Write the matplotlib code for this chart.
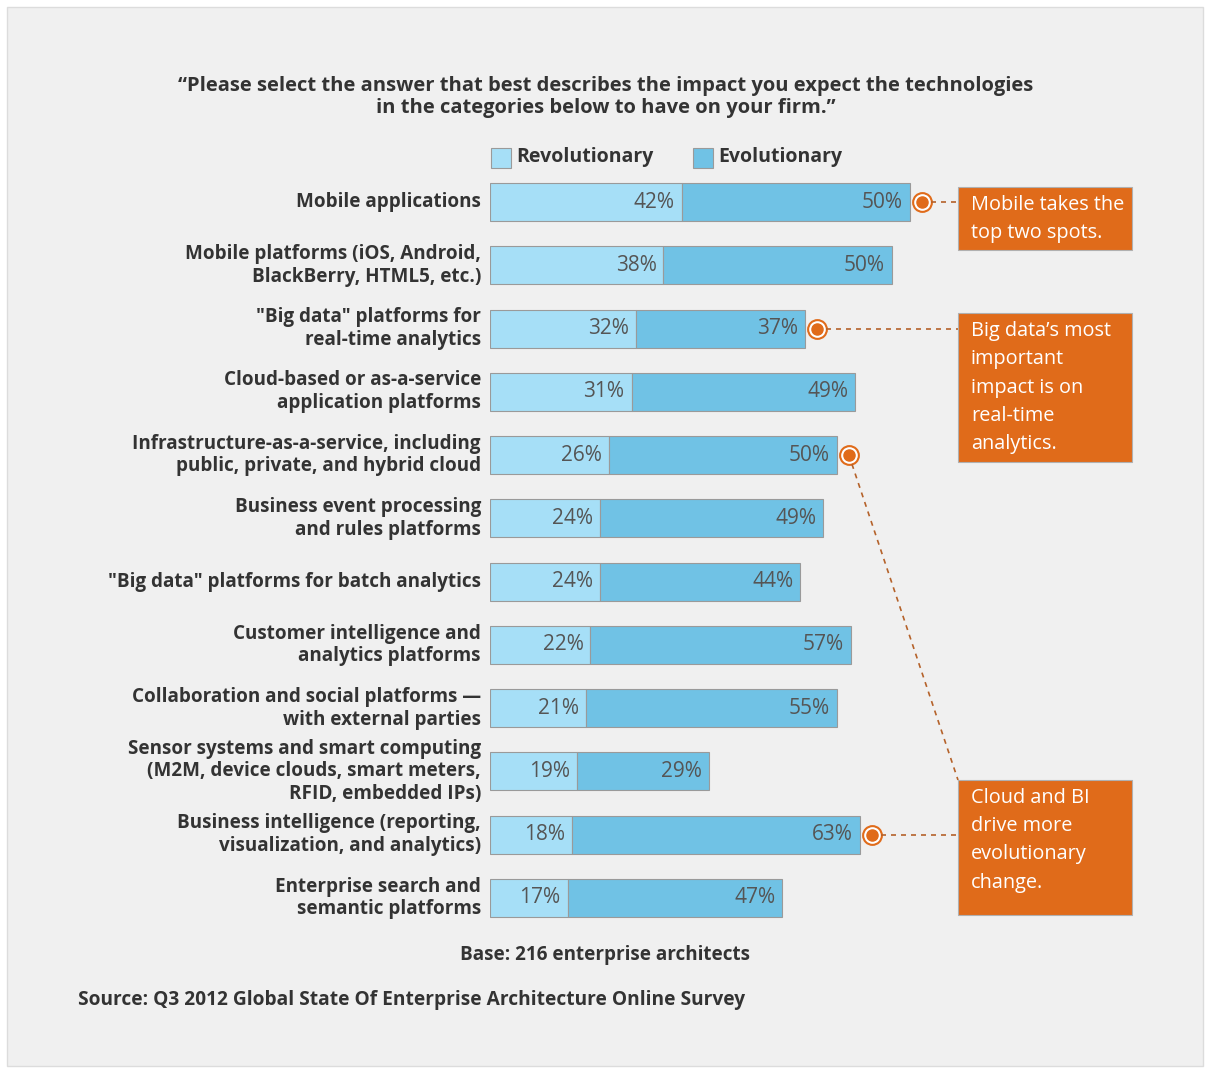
import matplotlib
matplotlib.use("Agg")
import matplotlib.pyplot as plt
from matplotlib.patches import Rectangle

categories = [
    "Mobile applications",
    "Mobile platforms (iOS, Android,\nBlackBerry, HTML5, etc.)",
    "\"Big data\" platforms for\nreal-time analytics",
    "Cloud-based or as-a-service\napplication platforms",
    "Infrastructure-as-a-service, including\npublic, private, and hybrid cloud",
    "Business event processing\nand rules platforms",
    "\"Big data\" platforms for batch analytics",
    "Customer intelligence and\nanalytics platforms",
    "Collaboration and social platforms —\nwith external parties",
    "Sensor systems and smart computing\n(M2M, device clouds, smart meters,\nRFID, embedded IPs)",
    "Business intelligence (reporting,\nvisualization, and analytics)",
    "Enterprise search and\nsemantic platforms",
]
revolutionary = [42, 38, 32, 31, 26, 24, 24, 22, 21, 19, 18, 17]
evolutionary = [50, 50, 37, 49, 50, 49, 44, 57, 55, 29, 63, 47]
series_names = ["Revolutionary", "Evolutionary"]

title = ("\u201cPlease select the answer that best describes the impact you expect the technologies\n"
         "in the categories below to have on your firm.\u201d")
base_note = "Base: 216 enterprise architects"
source_note = "Source: Q3 2012 Global State Of Enterprise Architecture Online Survey"
callouts = ["Mobile takes the\ntop two spots.",
            "Big data\u2019s most\nimportant\nimpact is on\nreal-time\nanalytics.",
            "Cloud and BI\ndrive more\nevolutionary\nchange."]

W, H = 1208, 1068
C_REV = "#a6dff7"
C_EVO = "#70c2e5"
ORANGE = "#e06b1a"
TXT = "#333333"
FONT = ["Open Sans", "DejaVu Sans"]
plt.rcParams["font.family"] = FONT

fig = plt.figure(figsize=(W / 100, H / 100), dpi=100)
fig.patch.set_facecolor("white")

def fx(x):
    return x / W

def fy(y):
    return 1 - y / H

# background panel
fig.patches.append(Rectangle((fx(7), fy(1066)), fx(1196), (1059) / H, transform=fig.transFigure,
                             facecolor="#f0f0f0", edgecolor="#dcdcdc", lw=1, zorder=-10))

# axes: x 0..100% from px 490 to 490+456.5 ; rows centered at 202 + 63.27 i
row_h = 63.27
top = 202 - row_h / 2
bot = 898 + row_h / 2
left = 490
xw = 456.5
ax = fig.add_axes([fx(left), fy(bot), xw / W, (bot - top) / H])
ax.set_xlim(0, 100)
ax.set_ylim(len(categories) - 0.5, -0.5)
ax.axis("off")
ax.patch.set_alpha(0)

ys = list(range(len(categories)))
ax.barh(ys, revolutionary, height=0.6, color=C_REV, edgecolor="#9a9a9a", lw=0.8)
ax.barh(ys, evolutionary, left=revolutionary, height=0.6, color=C_EVO, edgecolor="#9a9a9a", lw=0.8)

pad = 7 / xw * 100
for i, (r, e) in enumerate(zip(revolutionary, evolutionary)):
    ax.text(r - pad, i, f"{r}%", ha="right", va="center", fontsize=15, color="#555555")
    ax.text(r + e - pad, i, f"{e}%", ha="right", va="center", fontsize=15, color="#555555")
    ax.text(-9 / xw * 100, i, categories[i], ha="right", va="center", fontsize=13.6,
            fontweight="bold", color=TXT, linespacing=1.18)

# title
fig.text(fx(606), fy(97), title, ha="center", va="center", fontsize=14.5, fontweight="bold",
         color=TXT, linespacing=1.15)

# legend
for x0, name, c in [(491, series_names[0], C_REV), (693, series_names[1], C_EVO)]:
    fig.patches.append(Rectangle((fx(x0), fy(168)), 20 / W, 20 / H, transform=fig.transFigure,
                                 facecolor=c, edgecolor="#9a9a9a", lw=0.8))
    fig.text(fx(x0 + 25), fy(157), name, ha="left", va="center", fontsize=14,
             fontweight="bold", color=TXT)

# footer
fig.text(fx(605), fy(955), base_note, ha="center", va="center", fontsize=13.6,
         fontweight="bold", color=TXT)
fig.text(fx(78), fy(1000), source_note, ha="left", va="center", fontsize=13.8,
         fontweight="bold", color=TXT)

# callout boxes (pixel rectangles)
boxes = [(958, 187, 1132, 250), (958, 313, 1132, 462), (958, 780, 1132, 915)]
for (x0, y0, x1, y1), txt in zip(boxes, callouts):
    fig.patches.append(Rectangle((fx(x0), fy(y1)), (x1 - x0) / W, (y1 - y0) / H,
                                 transform=fig.transFigure, facecolor=ORANGE,
                                 edgecolor="#b0b0b0", lw=0.8))
    fig.text(fx(x0 + 13), fy(y0 + 8), txt, ha="left", va="top", fontsize=14.3,
             color="white", linespacing=1.55)

# markers and connectors
mk_off = 12 / xw * 100
marked = [0, 2, 4, 10]

def data_to_px(xd, yd):
    fxy = fig.transFigure.inverted().transform(ax.transData.transform((xd, yd)))
    return fxy[0] * W, (1 - fxy[1]) * H

targets = {0: (958, None), 2: (958, None), 4: (958, 780), 10: (958, None)}
for i in marked:
    mx = revolutionary[i] + evolutionary[i] + mk_off
    mxp, myp = data_to_px(mx, i)
    tx, ty = targets[i]
    if ty is None:
        ty = myp
    sx, sy = (mxp + 9, myp) if targets[i][1] is None else (mxp + 3, myp + 9)
    fig.add_artist(plt.Line2D([fx(sx), fx(tx)], [fy(sy), fy(ty)], transform=fig.transFigure,
                              color="#b5622a", lw=1.2, ls=(0, (3, 3))))
    ax.plot([mx], [i], marker="o", ms=13.5, mfc="white", mec=ORANGE, mew=1.5, clip_on=False, zorder=5)
    ax.plot([mx], [i], marker="o", ms=8, mfc=ORANGE, mec=ORANGE, clip_on=False, zorder=6)

fig.savefig("out.png", dpi=100, facecolor="white")
